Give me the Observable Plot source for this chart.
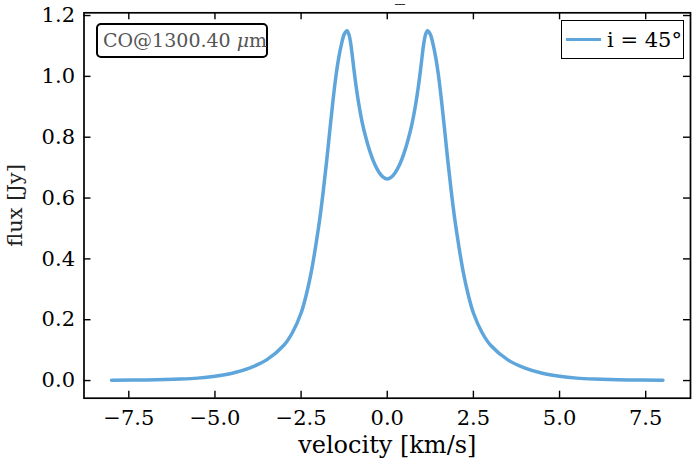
<!DOCTYPE html>
<html><head><meta charset="utf-8">
<script src="https://cdn.jsdelivr.net/npm/d3@7"></script>
<script src="https://cdn.jsdelivr.net/npm/@observablehq/plot@0.6"></script>
<style>
body{margin:0;background:#fff;}
#chart{position:relative;width:692px;height:461px;font-family:"DejaVu Serif",serif;}
#anno{position:absolute;left:96px;top:23px;width:172px;height:35px;box-sizing:border-box;border:2px solid #000;border-radius:5px;color:#555;font-size:19px;line-height:31px;padding-left:5px;white-space:nowrap;background:#fff;}
#legend{position:absolute;left:561px;top:20px;width:123px;height:39px;box-sizing:border-box;border:1.5px solid #000;background:#fff;display:flex;align-items:center;padding-left:4px;white-space:nowrap;font-size:21px;}
#legend .sw{width:35px;height:3.5px;background:#5DA5DA;margin-right:6px;}
#ttl{position:absolute;left:395px;top:-17px;font-size:20px;color:#333;line-height:20px;}
</style></head><body><div id="chart"></div>
<script>
const velocity = [-8.0,-7.0,-6.0,-5.5,-5.0,-4.5,-4.0,-3.5,-3.0,-2.75,-2.5,-2.35,-2.2,-2.08,-1.96,-1.86,-1.76,-1.66,-1.57,-1.49,-1.41,-1.33,-1.25,-1.17,-1.11,-1.05,-0.98,-0.90,-0.82,-0.72,-0.60,-0.48,-0.36,-0.24,-0.12,0.0,
  0.12,0.24,0.36,0.48,0.60,0.72,0.82,0.90,0.98,1.05,1.11,1.17,1.25,1.33,1.41,1.49,1.57,1.66,1.76,1.86,1.96,2.08,2.2,2.35,2.5,2.75,3.0,3.5,4.0,4.5,5.0,5.5,6.0,7.0,8.0];
const flux = [0.001,0.002,0.005,0.008,0.014,0.024,0.041,0.068,0.116,0.158,0.222,0.282,0.36,0.44,0.53,0.62,0.72,0.83,0.925,1.0,1.06,1.105,1.138,1.15,1.137,1.10,1.035,0.964,0.905,0.845,0.79,0.745,0.71,0.685,0.669,0.663,
  0.669,0.685,0.71,0.745,0.79,0.845,0.905,0.964,1.035,1.10,1.137,1.15,1.138,1.105,1.06,1.0,0.925,0.83,0.72,0.62,0.53,0.44,0.36,0.282,0.222,0.158,0.116,0.068,0.041,0.024,0.014,0.008,0.005,0.002,0.001];
const xTicks = [-7.5,-5.0,-2.5,0.0,2.5,5.0,7.5];
const yTicks = [0.0,0.2,0.4,0.6,0.8,1.0,1.2];
const xLabel = "velocity [km/s]";
const yLabel = "flux [Jy]";
const seriesLabel = "i = 45°";
const annotationText = "CO@1300.40 ";
const lineColor = "#5DA5DA";

const data = velocity.map((v, i) => ({v, f: flux[i]}));
const W = 692, H = 461, mt = 12.3, mb = 63.3, ml = 83.5, mr = 2;
const ph = H - mt - mb, pw = W - ml - mr;
const fmt = d => d.toFixed(1).replace("-", "\u2212");

const chart = Plot.plot({
  width: W, height: H, marginTop: mt, marginBottom: mb, marginLeft: ml, marginRight: mr,
  style: {fontFamily: "DejaVu Serif", background: "#fff", color: "#000", overflow: "visible"},
  x: {domain: [-8.8, 8.8]},
  y: {domain: [-0.058, 1.209]},
  marks: [
    Plot.line(data, {x: "v", y: "f", stroke: lineColor, strokeWidth: 3.5, curve: "catmull-rom"}),
    Plot.tickX(xTicks, {x: d => d, insetTop: ph - 7, stroke: "#000", strokeWidth: 1.4}),
    Plot.tickX(xTicks, {x: d => d, insetBottom: ph - 7, stroke: "#000", strokeWidth: 1.4}),
    Plot.tickY(yTicks, {y: d => d, insetRight: pw - 7, stroke: "#000", strokeWidth: 1.4}),
    Plot.tickY(yTicks, {y: d => d, insetLeft: pw - 7, stroke: "#000", strokeWidth: 1.4}),
    Plot.axisX(xTicks, {anchor: "bottom", tickSize: 0, tickPadding: 12, fontSize: 21, label: null, tickFormat: fmt}),
    Plot.axisY(yTicks, {anchor: "left", tickSize: 0, tickPadding: 9, fontSize: 21, label: null, tickFormat: fmt}),
    Plot.text([xLabel], {frameAnchor: "bottom", lineAnchor: "middle", textAnchor: "middle", dy: 47, fontSize: 24, text: d => d}),
    Plot.text([yLabel], {frameAnchor: "left", lineAnchor: "middle", textAnchor: "middle", dx: -68.5, rotate: -90, fontSize: 21, fill: "#222", text: d => d}),
    Plot.frame({stroke: "#000", strokeWidth: 1.7})
  ]
});
const root = document.getElementById("chart");
root.appendChild(chart);
const anno = document.createElement("div");
anno.id = "anno";
anno.innerHTML = annotationText + "<i>\u03bc</i>m";
root.appendChild(anno);
const leg = document.createElement("div");
leg.id = "legend";
leg.innerHTML = '<span class="sw"></span><span>' + seriesLabel + '</span>';
root.appendChild(leg);
const ttl = document.createElement("div");
ttl.id = "ttl";
ttl.textContent = "_";
root.appendChild(ttl);
</script></body></html>
